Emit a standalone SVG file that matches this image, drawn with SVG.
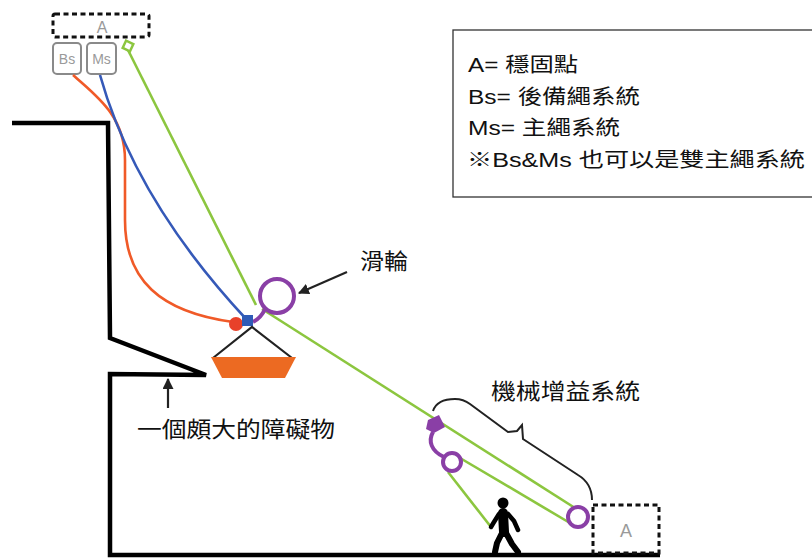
<svg xmlns="http://www.w3.org/2000/svg" width="812" height="559" viewBox="0 0 812 559">
  <style>
    .wall { fill: none; stroke: #000; stroke-width: 4.5; stroke-linejoin: miter; }
    .dash { fill: none; stroke: #111; stroke-width: 3; stroke-dasharray: 5 3.5; }
    .tag { fill: #fff; stroke: #8a8a8a; stroke-width: 2; }
    .grey { font-family: "Liberation Sans", Arial, sans-serif; fill: #9a9a9a; text-anchor: middle; }
    .label { font-family: "Noto Sans CJK TC", "Noto Sans CJK SC", sans-serif; fill: #111; font-size: 22px; }
    .legend { font-family: "Liberation Sans", "Noto Sans CJK TC", sans-serif; fill: #111; font-size: 20px; }
    .green { fill: none; stroke: #8cc63f; stroke-width: 2.6; }
    .purple { fill: none; stroke: #8a3fa6; stroke-width: 4; }
    .ptr { fill: none; stroke: #222; stroke-width: 2.2; }
  </style>
  <defs>
    <marker id="arrow" viewBox="0 0 10 10" refX="9" refY="5" markerWidth="5" markerHeight="5" orient="auto-start-reverse">
      <path d="M0,0 L10,5 L0,10 z" fill="#222"/>
    </marker>
  </defs>

  <!-- cliff edge, overhang and ground -->
  <g id="terrain">
    <path class="wall" d="M12,123 L108,123 L110,338 L206,375 L110,374 L110,555 L660,555"/>
  </g>

  <!-- upper anchor with backup and main system tags -->
  <g id="anchor-top">
    <rect class="dash" x="53" y="14" width="96" height="23" rx="2"/>
    <text class="grey" x="102" y="33" font-size="16">A</text>
  </g>
  <g id="tag-bs">
    <rect class="tag" x="53" y="43" width="28" height="31" rx="4"/>
    <text class="grey" x="67" y="64" font-size="14">Bs</text>
  </g>
  <g id="tag-ms">
    <rect class="tag" x="87" y="43" width="29" height="31" rx="4"/>
    <text class="grey" x="101.5" y="64" font-size="14">Ms</text>
  </g>

  <!-- ropes -->
  <g id="connectors">
    <path d="M73,75 C95,95 125,115 125,160 L125,220 C125,280 160,312 233,322" fill="none" stroke="#f05a28" stroke-width="2.6"/>
    <path d="M100,75 Q135,200 247,320" fill="none" stroke="#3559b8" stroke-width="2.6"/>
    <path class="green" d="M128,50 L256,305"/>
    <path class="green" d="M262,309 L575,508"/>
    <path class="green" d="M460,458 L570,523"/>
    <path class="green" d="M448,472 L491,527"/>
    <path class="ptr" d="M347,272 L299,293" marker-end="url(#arrow)"/>
    <path class="ptr" d="M168,408 L168,379" marker-end="url(#arrow)"/>
  </g>

  <!-- green anchor loop at the top -->
  <g id="anchor-loop">
    <rect x="124" y="42" width="8" height="8" fill="#fff" stroke="#8cc63f" stroke-width="2.5" transform="rotate(25 128 46)"/>
  </g>

  <!-- pulley above the load -->
  <g id="pulley">
    <circle class="purple" cx="277" cy="296" r="17"/>
    <path class="purple" d="M265,309 Q261,318 253,322"/>
    <circle cx="236" cy="324" r="7" fill="#e8412a"/>
    <rect x="242" y="315" width="11" height="11" fill="#2f5bb7"/>
    <text class="label" x="360" y="269" textLength="48" lengthAdjust="spacingAndGlyphs">滑輪</text>
  </g>

  <!-- suspended load -->
  <g id="load">
    <path d="M213,358 L252,327 L292,358" fill="none" stroke="#222" stroke-width="2.2"/>
    <path d="M211,357 L296,357 L285,378 L222,378 z" fill="#ec6a22"/>
  </g>

  <!-- mechanical advantage system -->
  <g id="mechanical-advantage">
    <path d="M428,420 L439,415 L445,427 L434,433 L430,431 L426,429 z" fill="#8a3fa6"/>
    <path class="purple" d="M433,432 C428,441 431,451 444,457"/>
    <circle class="purple" cx="452" cy="462" r="9"/>
    <circle class="purple" cx="578" cy="517" r="10"/>
    <path d="M433,411 C436,402 445,399 455,399 C462,399 466,401 470,404 L508,432 L517,431 L522,425 L523,439 L578,475 C588,481 592,490 592,500" fill="none" stroke="#222" stroke-width="2"/>
    <text class="label" x="491" y="399" textLength="149" lengthAdjust="spacingAndGlyphs">機械增益系統</text>
  </g>

  <!-- lower anchor -->
  <g id="anchor-bottom">
    <rect class="dash" x="593" y="505" width="66" height="48"/>
    <text class="grey" x="626" y="537" font-size="18">A</text>
  </g>

  <!-- person hauling -->
  <g id="person" stroke="#000" stroke-linecap="round" stroke-linejoin="round" fill="none">
    <circle cx="503" cy="503" r="5.5" fill="#000" stroke="none"/>
    <path d="M503,513 L504,532" stroke-width="10"/>
    <path d="M499,514 L494,522 L491,527" stroke-width="4.5"/>
    <path d="M508,514 L514,521 L518,530" stroke-width="4.5"/>
    <path d="M502,533 L497,543 L495,552" stroke-width="6"/>
    <path d="M506,533 L512,544 L518,552" stroke-width="6"/>
  </g>

  <!-- obstacle label -->
  <g id="obstacle-label">
    <text class="label" x="137" y="437" textLength="198" lengthAdjust="spacingAndGlyphs">一個頗大的障礙物</text>
  </g>

  <!-- legend -->
  <g id="legend">
    <rect x="453" y="30" width="400" height="167" fill="#fff" stroke="#333" stroke-width="1.3"/>
    <text class="legend" x="468" y="72" textLength="110" lengthAdjust="spacingAndGlyphs">A= 穩固點</text>
    <text class="legend" x="468" y="104" textLength="172" lengthAdjust="spacingAndGlyphs">Bs= 後備繩系統</text>
    <text class="legend" x="468" y="135" textLength="152" lengthAdjust="spacingAndGlyphs">Ms= 主繩系統</text>
    <text class="legend" x="467" y="167" textLength="338" lengthAdjust="spacingAndGlyphs">※Bs&amp;Ms 也可以是雙主繩系統</text>
  </g>
</svg>
